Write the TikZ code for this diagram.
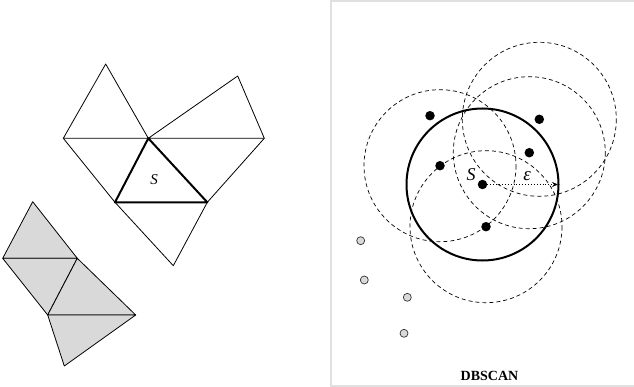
\documentclass[tikz,border=0pt]{standalone}
\usepackage{fontspec}
\setmainfont{Liberation Serif}
\usetikzlibrary{arrows.meta}
\begin{document}
\begin{tikzpicture}[x=1pt,y=-1pt,
  thinline/.style={line width=0.8pt, line join=round},
  thickline/.style={line width=2pt, line join=round},
  grayfill/.style={fill=black!15, draw=black, line width=0.8pt, line join=round},
  dashcircle/.style={draw, line width=0.7pt, dash pattern=on 4pt off 3pt},
  coredot/.style={circle, fill=black, inner sep=0pt, minimum size=9.5pt},
  noisedot/.style={circle, draw=black!80, fill=black!15, line width=0.7pt, inner sep=0pt, minimum size=8pt},
  lbl/.style={inner sep=0pt, font=\fontsize{15}{15}\selectfont\itshape}]
\useasboundingbox (0,0) rectangle (634,387);
% frame of right panel
\draw[black!12, line width=1.2pt] (634,1) -- (331,1) -- (331,386) -- (634,386);

% ---- left: mesh
\coordinate (A) at (105.7,64);
\coordinate (L) at (63.3,138.3);
\coordinate (H) at (148.3,138.3);
\coordinate (RT) at (237.7,76);
\coordinate (R) at (264.3,138.3);
\coordinate (SL) at (115,202.3);
\coordinate (SR) at (207.3,202.3);
\coordinate (B) at (173.3,265.7);
\draw[thinline] (L) -- (A) -- (H) -- cycle;
\draw[thinline] (H) -- (RT) -- (R) -- cycle;
\draw[thinline] (L) -- (SL);
\draw[thinline] (R) -- (SR);
\draw[thinline] (SL) -- (B) -- (SR);
\draw[thickline] (H) -- (SL) -- (SR) -- cycle;
\node[lbl] (slab) at (154,180) {S};

% gray strip
\coordinate (G1) at (32.7,201.7);
\coordinate (G2) at (2.7,258.3);
\coordinate (G3) at (77.3,258.3);
\coordinate (G4) at (47.7,315);
\coordinate (G5) at (135.7,315);
\coordinate (G6) at (64.3,366);
\draw[grayfill] (G1) -- (G2) -- (G3) -- cycle;
\draw[grayfill] (G2) -- (G3) -- (G4) -- cycle;
\draw[grayfill] (G3) -- (G4) -- (G5) -- cycle;
\draw[grayfill] (G4) -- (G5) -- (G6) -- cycle;

% ---- right: DBSCAN
\coordinate (C) at (482.5,184.5);
\coordinate (P1) at (440,165.7);
\coordinate (P2) at (539.3,119.3);
\coordinate (P3) at (529.3,152.7);
\coordinate (P4) at (486,226.7);
\draw[dashcircle] (P1) circle (76);
\draw[dashcircle] (P2) circle (77);
\draw[dashcircle] (P3) circle (76);
\draw[dashcircle] (P4) circle (76);
\draw[line width=2pt] (C) circle (76);
\node[coredot] (s) at (C) {};
\node[coredot] (d0) at (430,115.7) {};
\node[coredot] (d1) at (P1) {};
\node[coredot] (d2) at (P2) {};
\node[coredot] (d3) at (P3) {};
\node[coredot] (d4) at (P4) {};
\coordinate (E) at (558,184.5);
\draw[line width=0.9pt, dotted, -{Stealth[length=6pt,width=5pt]}] (s) -- (E);
\node[lbl, font=\fontsize{18}{18}\selectfont\itshape] (sl) at (471,175) {S};
\node[lbl, font=\fontsize{19}{19}\selectfont\itshape] (el) at (527,176) {ε};
\node[noisedot] (n1) at (360.7,240.7) {};
\node[noisedot] (n2) at (364.3,280) {};
\node[noisedot] (n3) at (407.3,297.3) {};
\node[noisedot] (n4) at (404,333.3) {};
\node[font=\fontsize{14}{14}\selectfont\bfseries, inner sep=0pt] (title) at (489.5,376) {DBSCAN};
\end{tikzpicture}
\end{document}
